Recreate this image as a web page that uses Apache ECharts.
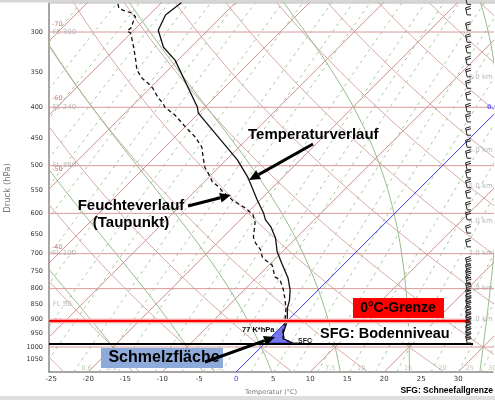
<!DOCTYPE html>
<html>
<head>
<meta charset="utf-8">
<script src="https://cdn.jsdelivr.net/npm/echarts@6/dist/echarts.min.js"></script>
<style>
html, body { margin: 0; padding: 0; background: #fff; }
#main { width: 495px; height: 400px; }
</style>
</head>
<body>
<div id="main"></div>
<script>
// Aufstieg: Druck (hPa) und Temperatur (°C)
var tempP = [268, 281, 298, 318, 334, 400, 409, 489, 524, 570, 599, 615, 632, 659, 695, 731, 768, 804, 836, 862, 905, 948, 970, 981, 985];
var tempT = [-57.3, -57.8, -56.7, -53.7, -50.4, -41.0, -40.1, -28.5, -24.6, -20.4, -17.8, -16.6, -14.9, -12.8, -10.7, -8.2, -5.7, -3.8, -2.5, -1.7, 0.0, 1.1, 2.0, 3.3, 3.7];

// Taupunkt
var dewP = [269.5, 274, 276, 279, 283, 289, 295, 299, 301, 313, 330, 347, 358, 365, 372, 385, 394, 400, 412, 431, 448, 466, 484, 503, 514, 532, 542, 553, 564, 570, 588, 604, 622, 657, 672, 690, 709, 717, 731, 765, 774, 804, 836, 862, 905, 948, 970, 981];
var dewT = [-65.7, -65.0, -64.2, -62.6, -61.6, -61.2, -60.7, -60.8, -60.1, -58.4, -56.2, -54.2, -52.4, -50.9, -49.6, -47.7, -46.2, -45.4, -43.0, -40.0, -37.3, -35.0, -33.5, -31.9, -30.7, -28.9, -27.4, -26.1, -24.5, -23.8, -20.9, -18.9, -17.6, -15.9, -14.8, -13.2, -12.0, -11.2, -9.6, -7.6, -6.5, -4.7, -3.1, -1.9, -0.3, 1.0, 1.9, 3.2];

// Achsen
var pressTicks = [300, 350, 400, 450, 500, 550, 600, 650, 700, 750, 800, 850, 900, 950, 1000, 1050];
var tempTicks = [-25, -20, -15, -10, -5, 0, 5, 10, 15, 20, 25, 30];

// Hintergrundlinien
var isobars = [300, 400, 500, 600, 700, 800, 1000];
var isotherms = [-90, -80, -70, -60, -50, -40, -30, -20, -10, 10, 20, 30];
var dryTheta = [-30, -20, -10, 0, 10, 20, 30, 40, 50, 60, 70, 80, 90, 100];
var moistThetaW = [-20, -10, 0, 10, 20, 30];
var mixRatios = [0.01, 0.02, 0.03, 0.05, 0.07, 0.1, 0.15, 0.2, 0.3, 0.4, 0.6, 0.8, 1, 1.5, 2, 2.5, 3, 4, 5, 6, 7.5, 10, 12.5, 15, 20, 25, 30];
var mixLabels = [0.6, 0.8, 2.5, 7.5, 10, 15, 20, 25, 30];

// Beschriftungen am Rand
var flP = [300, 400, 500, 700, 850];
var flText = ['FL 300', 'FL 240', 'FL 180', 'FL 100', 'FL 50'];
var isoLabT = [-70, -60, -50, -40, -30];
var isoLabP = [291, 386, 508, 682, 905];
var kmP = [356, 472, 540, 618, 698, 798, 898];
var kmText = ['8.0 km', '6.0 km', '5.0 km', '4.0 km', '3.0 km', '2.0 km', '1.0 km'];

// Windfahnen
var windP = [270, 281, 298, 312, 325, 340, 356, 372, 389, 407, 423, 445, 466, 486, 508, 524, 544, 566, 592, 615, 647, 682, 731, 750, 767, 785, 806, 826, 842, 858, 878, 895, 912, 930, 948, 966, 985];
var windFeath = [2, 2, 2, 2, 2, 2, 2, 2, 2, 2, 2, 2, 2, 2, 2, 2, 2, 2, 2, 2, 2, 2, 3, 3, 3, 3, 3, 3, 3, 3, 3, 3, 3, 3, 3, 3, 3];

var freezeP = 905;   // 0°C-Grenze
var sfgP = 989;      // SFG Bodenniveau
var sfcP = 985;

var P_BOT = 1100, SKEW = 35.35;
var X_MIN = -25.3, X_MAX = 34.7;
var LINE_END = 31.6, BARB_X = 31.2;

var chart = echarts.init(document.getElementById('main'));

function skewX(t, p) { return t + SKEW * Math.log(P_BOT / p); }
function pt(t, p) { return [skewX(t, p), Math.log(p)]; }

var samp = [];
for (var sp = 1100; sp >= 260; sp -= 10) samp.push(sp);

function lineSeries(data, color, width, type, z) {
  return {
    type: 'line', data: data, symbol: 'none', showSymbol: false, silent: true,
    z: z || 1, lineStyle: { color: color, width: width, type: type || 'solid' }
  };
}

function mixT(w, p) {
  var e = w * p / (622 + w);
  var L = Math.log(e / 6.112);
  return 243.5 * L / (17.67 - L);
}

function moistRate(tk, p) {
  var es = 6.112 * Math.exp(17.67 * (tk - 273.15) / (tk - 29.65));
  var rs = 0.622 * es / (p - es);
  var num = 287.04 * tk + 2.501e6 * rs;
  var den = 1005.7 + 2.501e6 * 2.501e6 * rs * 0.622 / (287.04 * tk * tk);
  return num / den / p;
}

function moistLine(tw) {
  var up = [], down = [];
  var tk = tw + 273.15, p = 1000, dp = -5;
  up.push(pt(tw, 1000));
  while (p > 260) {
    var k1 = moistRate(tk, p);
    var k2 = moistRate(tk + k1 * dp, p + dp);
    tk += 0.5 * (k1 + k2) * dp; p += dp;
    up.push(pt(tk - 273.15, p));
  }
  tk = tw + 273.15; p = 1000; dp = 5;
  while (p < 1100) {
    var a1 = moistRate(tk, p);
    var a2 = moistRate(tk + a1 * dp, p + dp);
    tk += 0.5 * (a1 + a2) * dp; p += dp;
    down.unshift(pt(tk - 273.15, p));
  }
  return down.concat(up);
}

var series = [];

// Isobaren
isobars.forEach(function (p) {
  series.push(lineSeries([[X_MIN - 1, Math.log(p)], [X_MAX + 1, Math.log(p)]], '#d99a9a', 1, 'solid', 2));
});
// Isothermen
isotherms.forEach(function (t) {
  series.push(lineSeries([pt(t, 1100), pt(t, 260)], '#cf8f8f', 1, 'solid', 1));
});
// Trockenadiabaten
dryTheta.forEach(function (th) {
  series.push(lineSeries(samp.map(function (p) {
    return pt((th + 273.15) * Math.pow(p / 1000, 0.2857) - 273.15, p);
  }), '#d8a8a8', 1, 'solid', 1));
});
// Feuchtadiabaten
moistThetaW.forEach(function (tw) {
  series.push(lineSeries(moistLine(tw), '#94bb8a', 1, 'solid', 1));
});
// Mischungsverhältnis
mixRatios.forEach(function (w) {
  series.push(lineSeries(samp.map(function (p) { return pt(mixT(w, p), p); }), '#a9c79a', 1, [3, 4], 1));
});
// 0°C Isotherme
series.push(lineSeries([pt(0, 1100), pt(0, 260)], '#3a3aff', 1, 'solid', 3));

// Schmelzfläche
var melt = [];
tempP.forEach(function (p, i) { if (p >= freezeP) melt.push(pt(tempT[i], p)); });
melt.push(pt(0, sfcP));
series.push({
  type: 'custom', silent: true, z: 4,
  data: [melt[0]],
  renderItem: function (params, api) {
    return {
      type: 'polygon',
      shape: { points: melt.map(function (d) { return api.coord(d); }) },
      style: { fill: '#7474f2', stroke: '#3535c8', lineWidth: 1 }
    };
  }
});

// Temperatur und Taupunkt
series.push(lineSeries(tempP.map(function (p, i) { return pt(tempT[i], p); }), '#111', 1.3, 'solid', 5));
series.push(lineSeries(dewP.map(function (p, i) { return pt(dewT[i], p); }), '#111', 1.3, [4, 3], 5));

// Randbeschriftungen
function textSeries(data, color, size, z, weight) {
  return {
    type: 'scatter', symbolSize: 0, silent: true, z: z || 7, data: data,
    label: {
      show: true, position: 'right', distance: 0,
      formatter: function (d) { return d.data[2]; },
      color: color, fontSize: size, fontFamily: 'DejaVu Sans', fontWeight: weight || 'normal'
    }
  };
}
series.push(textSeries(isoLabT.map(function (t, i) { return [X_MIN + 0.4, Math.log(isoLabP[i]), String(t)]; }), '#c05a5a', 6.5, 3));
series.push(textSeries(flP.map(function (p, i) { return [X_MIN + 0.5, Math.log(p), flText[i]]; }), '#a8a8a8', 7, 7));
series.push(textSeries(kmP.map(function (p, i) { return [BARB_X + 0.2, Math.log(p), kmText[i]]; }), '#a8a8a8', 7, 7));
series.push(textSeries(mixLabels.map(function (w) { return [skewX(mixT(w, 1083), 1083) + 0.7, Math.log(1083), String(w)]; }), '#a9bc9d', 6.5, 3));
series.push(textSeries([[X_MAX - 0.8, Math.log(400), '0.9']], '#4a4aff', 6.5, 7, 'bold'));

// 0°C-Grenze und SFG
series.push(lineSeries([[X_MIN, Math.log(freezeP)], [LINE_END, Math.log(freezeP)]], '#f7a3a3', 4.5, 'solid', 6));
series.push(lineSeries([[X_MIN, Math.log(freezeP)], [LINE_END, Math.log(freezeP)]], '#ff0000', 2, 'solid', 6));
series.push(lineSeries([[X_MIN, Math.log(sfgP)], [LINE_END + 0.4, Math.log(sfgP)]], '#000', 2, 'solid', 6));

// Windfahnen
series.push({
  type: 'custom', silent: true, z: 8,
  data: windP.map(function (p, i) { return [BARB_X, Math.log(p), windFeath[i]]; }),
  renderItem: function (params, api) {
    var c = api.coord([api.value(0), api.value(1)]);
    var n = api.value(2);
    var kids = [];
    var top = [c[0] - 1.5, c[1] - 7];
    kids.push({ type: 'line', shape: { x1: c[0], y1: c[1], x2: top[0], y2: top[1] } });
    kids.push({ type: 'line', shape: { x1: c[0], y1: c[1], x2: c[0] + 4, y2: c[1] } });
    for (var k = 0; k < n; k++) {
      var yy = top[1] + k * 2, xx = top[0] + k * 0.4;
      kids.push({ type: 'line', shape: { x1: xx, y1: yy, x2: xx + 5, y2: yy - 1.5 } });
    }
    kids.forEach(function (e) { e.style = { stroke: '#222', lineWidth: 1 }; });
    return { type: 'group', children: kids };
  }
});

function arrow(x1, y1, x2, y2) {
  var a = Math.atan2(y2 - y1, x2 - x1), L = 11, W = 5;
  var bx = x2 - L * Math.cos(a), by = y2 - L * Math.sin(a);
  return [
    { type: 'line', z: 20, shape: { x1: x1, y1: y1, x2: bx, y2: by }, style: { stroke: '#000', lineWidth: 3 } },
    { type: 'polygon', z: 20, shape: { points: [[x2, y2], [bx - W * Math.sin(a), by + W * Math.cos(a)], [bx + W * Math.sin(a), by - W * Math.cos(a)]] }, style: { fill: '#000' } }
  ];
}

var bold = 'Liberation Sans';
var graphics = [
  { type: 'rect', z: 1, shape: { x: 0, y: 0, width: 495, height: 2.5 }, style: { fill: '#d6d6d6' } },
  { type: 'rect', z: 1, shape: { x: 0, y: 396, width: 495, height: 4 }, style: { fill: '#dedede' } },
  { type: 'line', z: 1, shape: { x1: 49, y1: 3, x2: 495, y2: 3 }, style: { stroke: '#b8b8b8', lineWidth: 1 } },
  { type: 'text', z: 20, x: 8, y: 188, rotation: Math.PI / 2, style: { text: 'Druck (hPa)', fill: '#777', font: '8.5px DejaVu Sans', align: 'center', verticalAlign: 'middle' } },
  { type: 'text', z: 20, x: 271, y: 392, style: { text: 'Temperatur (°C)', fill: '#777', font: '6.5px DejaVu Sans', align: 'center', verticalAlign: 'middle' } },
  { type: 'text', z: 20, x: 248, y: 135, style: { text: 'Temperaturverlauf', fill: '#000', font: 'bold 15px ' + bold, verticalAlign: 'middle' } },
  { type: 'text', z: 20, x: 131, y: 206, style: { text: 'Feuchteverlauf', fill: '#000', font: 'bold 15px ' + bold, align: 'center', verticalAlign: 'middle' } },
  { type: 'text', z: 20, x: 131, y: 223, style: { text: '(Taupunkt)', fill: '#000', font: 'bold 15px ' + bold, align: 'center', verticalAlign: 'middle' } },
  { type: 'rect', z: 20, shape: { x: 353, y: 298, width: 91, height: 20 }, style: { fill: '#ff0000' } },
  { type: 'text', z: 21, x: 398, y: 308, style: { text: '0°C-Grenze', fill: '#000', font: 'bold 14px ' + bold, align: 'center', verticalAlign: 'middle' } },
  { type: 'text', z: 20, x: 319, y: 334, style: { text: 'SFG: Bodenniveau', fill: '#000', font: 'bold 14.5px ' + bold, verticalAlign: 'middle', backgroundColor: '#fff', padding: [0, 1] } },
  { type: 'rect', z: 20, shape: { x: 101, y: 348, width: 122, height: 20 }, style: { fill: '#8eaadb' } },
  { type: 'text', z: 21, x: 164, y: 358, style: { text: 'Schmelzfläche', fill: '#000', font: 'bold 16px ' + bold, align: 'center', verticalAlign: 'middle' } },
  { type: 'text', z: 20, x: 242, y: 330, style: { text: '77 K*hPa', fill: '#000', font: 'bold 7.5px ' + bold, verticalAlign: 'middle' } },
  { type: 'line', z: 20, shape: { x1: 292, y1: 343, x2: 298, y2: 343 }, style: { stroke: '#222', lineWidth: 1 } },
  { type: 'text', z: 20, x: 298, y: 341, style: { text: 'SFC', fill: '#222', font: 'bold 7px ' + bold, verticalAlign: 'middle' } },
  { type: 'text', z: 20, x: 493, y: 391, style: { text: 'SFG: Schneefallgrenze', fill: '#000', font: 'bold 8.5px ' + bold, align: 'right', verticalAlign: 'middle' } }
].concat(arrow(313, 144, 249, 180), arrow(188, 206, 231, 195), arrow(205, 362, 275, 337));

var option = {
  animation: false,
  backgroundColor: '#fff',
  grid: { left: 49, right: 2, top: 3, bottom: 28 },
  xAxis: {
    type: 'value', min: X_MIN, max: X_MAX,
    axisLine: { show: true, onZero: false, lineStyle: { color: '#888', width: 1.5 } },
    axisTick: { show: false },
    splitLine: { show: false },
    axisLabel: {
      customValues: tempTicks, margin: 4, fontSize: 7, color: '#333', fontFamily: 'DejaVu Sans',
      formatter: function (v) { return v === 0 ? '{b|0}' : String(v); },
      rich: { b: { color: '#3c3cff', fontSize: 7, fontFamily: 'DejaVu Sans' } }
    }
  },
  yAxis: {
    type: 'value', inverse: true, min: Math.log(268.5), max: Math.log(1100.3),
    axisLine: { show: true, onZero: false, lineStyle: { color: '#888', width: 1.5 } },
    axisTick: { show: false },
    splitLine: { show: false },
    axisLabel: {
      customValues: pressTicks.map(function (p) { return Math.log(p); }),
      margin: 6, fontSize: 6.5, color: '#333', fontFamily: 'DejaVu Sans',
      formatter: function (v) { return String(Math.round(Math.exp(v))); }
    }
  },
  graphic: graphics,
  series: series
};

chart.setOption(option);
</script>
</body>
</html>
